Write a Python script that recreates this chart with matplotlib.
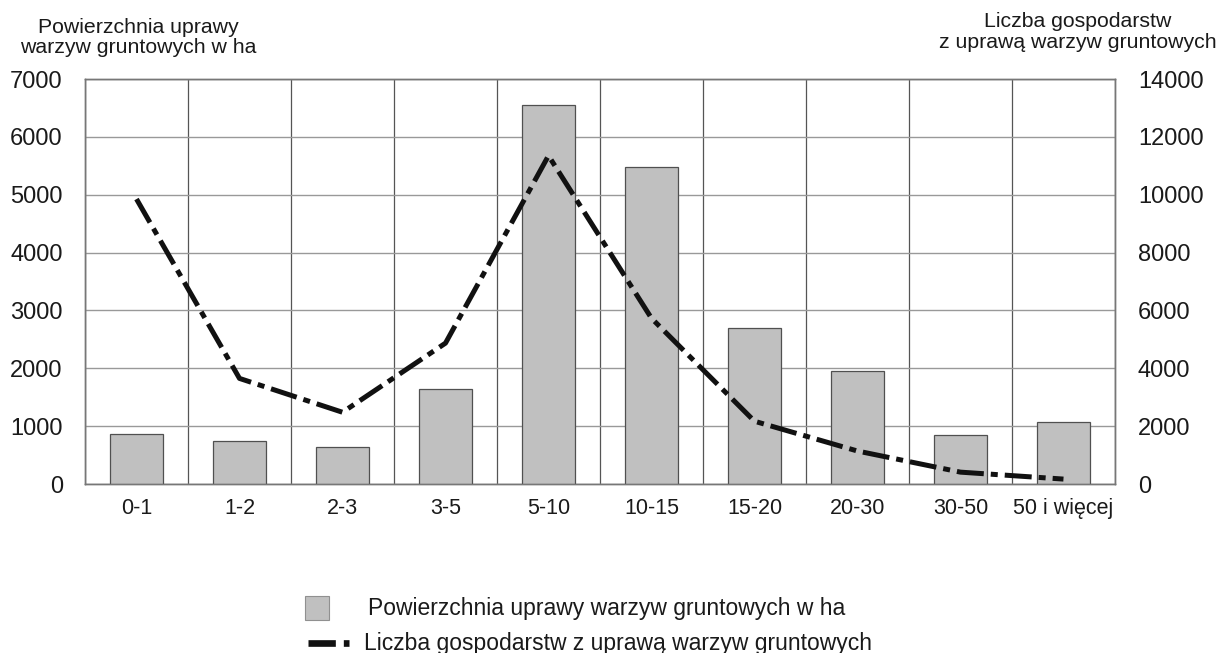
import numpy as np
import matplotlib.pyplot as plt
from matplotlib.patches import Rectangle
from matplotlib.lines import Line2D

plt.rcParams['font.family'] = ['Liberation Sans', 'DejaVu Sans']

kategorie = ['0-1', '1-2', '2-3', '3-5', '5-10', '10-15', '15-20', '20-30', '30-50', '50 i więcej']
powierzchnia = [860, 740, 640, 1640, 6550, 5480, 2690, 1960, 845, 1070]
gospodarstwa = [9850, 3650, 2480, 4870, 11350, 5730, 2170, 1140, 410, 170]

fig = plt.figure(figsize=(12.32, 6.53), dpi=100)
ax = fig.add_axes([0.069, 0.2588, 0.836, 0.6202])
ax2 = ax.twinx()

x = np.arange(len(kategorie))
ax.bar(x, powierzchnia, width=0.52, color='#c0c0c0', edgecolor='#505050', linewidth=0.9, zorder=3)
ax2.plot(x, gospodarstwa, color='#111111', linewidth=3.6, dashes=(5.4, 1.4, 1.4, 1.4), zorder=4)

ax.set_xlim(-0.5, len(kategorie) - 0.5)
ax.set_ylim(0, 7000)
ax2.set_ylim(0, 14000)
ax.set_yticks(np.arange(0, 7001, 1000))
ax2.set_yticks(np.arange(0, 14001, 2000))
ax.set_xticks(x)
ax.set_xticklabels(kategorie)
ax.set_xticks(np.arange(-0.5, len(kategorie), 1), minor=True)

ax.grid(True, axis='y', color='#999999', linewidth=1, zorder=0)
ax.grid(True, axis='x', which='minor', color='#555555', linewidth=0.9, zorder=0)
ax.set_axisbelow(True)

ax.tick_params(axis='both', which='both', length=0)
ax.tick_params(axis='x', labelsize=15.5, pad=10, labelcolor='#1a1a1a')
ax.tick_params(axis='y', labelsize=17, pad=16, labelcolor='#1a1a1a')
ax2.tick_params(axis='y', length=0, labelsize=17, pad=16.5, labelcolor='#1a1a1a')

for a in (ax, ax2):
    for s in a.spines.values():
        s.set_color('#777777')
        s.set_linewidth(1)
ax2.patch.set_visible(False)

fig.text(0.112, 0.973, 'Powierzchnia uprawy\nwarzyw gruntowych w ha', ha='center', va='top',
         fontsize=15.3, linespacing=1.1, color='#1a1a1a')
fig.text(0.875, 0.981, 'Liczba gospodarstw\nz uprawą warzyw gruntowych', ha='center', va='top',
         fontsize=15.3, linespacing=1.1, color='#1a1a1a')

# legenda
fig.patches.append(Rectangle((0.2476, 0.0505), 0.0195, 0.0368, transform=fig.transFigure,
                             facecolor='#c0c0c0', edgecolor='#909090', linewidth=0.8, figure=fig))
fig.text(0.2987, 0.058, 'Powierzchnia uprawy warzyw gruntowych w ha', va='baseline', fontsize=16.5, color='#1a1a1a')
fig.lines.append(Line2D([0.25, 0.2833], [0.0153, 0.0153], transform=fig.transFigure, color='#111111',
                        linewidth=4.8, dashes=(4.1, 1.2, 0.9, 3), figure=fig))
fig.text(0.2955, 0.0046, 'Liczba gospodarstw z uprawą warzyw gruntowych', va='baseline', fontsize=16.5, color='#1a1a1a')

plt.savefig('out.png', dpi=100)
